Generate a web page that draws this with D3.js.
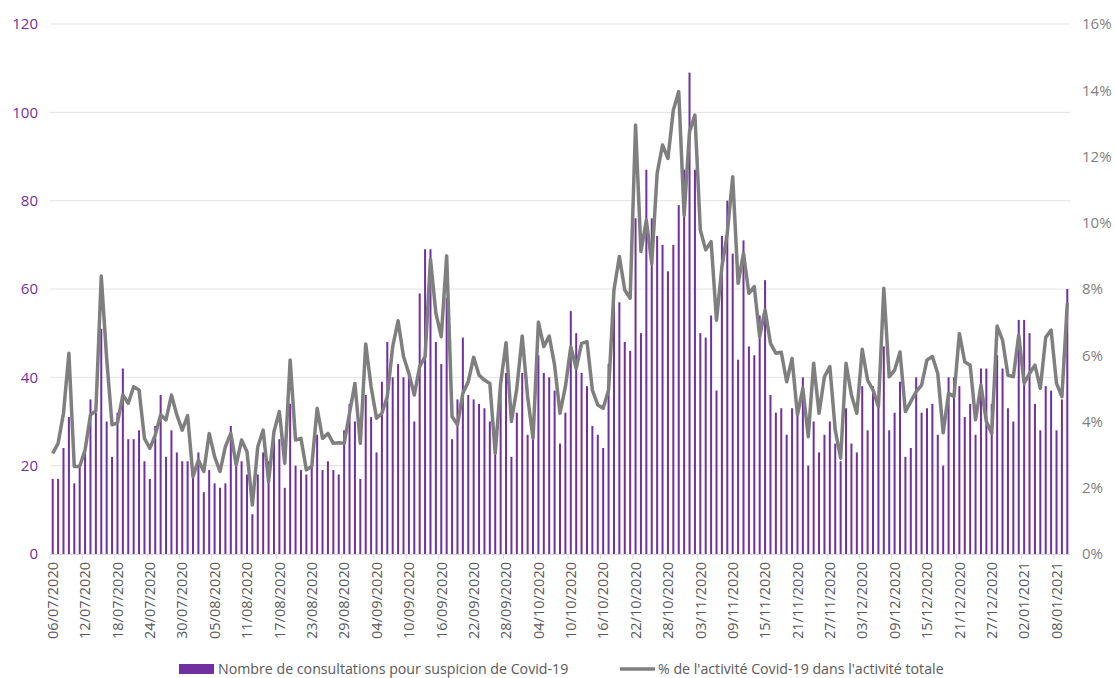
<!DOCTYPE html>
<html>
<head>
<meta charset="utf-8">
<script src="https://cdn.jsdelivr.net/npm/d3@7"></script>
<style>
  body { margin: 0; background: #fff; }
  text { font-family: "Open Sans", sans-serif; }
</style>
</head>
<body>
<svg id="chart" width="1115" height="678"></svg>
<script>
// First day shown (Monday 06/07/2020), one bar per day after it.
var startDate = new Date(2020, 6, 6);

// Daily number of consultations for suspected Covid-19
var consultations = [
  17, 17, 24, 31, 16, 20, 23, 35, 32, 51,
  30, 22, 32, 42, 26, 26, 28, 21, 17, 29,
  36, 22, 28, 23, 21, 21, 18, 23, 14, 19,
  16, 15, 16, 29, 20, 21, 18, 9, 18, 23,
  21, 28, 26, 15, 34, 20, 19, 18, 20, 27,
  19, 21, 19, 18, 28, 34, 30, 17, 36, 31,
  23, 39, 48, 40, 43, 40, 40, 30, 59, 69,
  69, 48, 43, 58, 26, 35, 49, 36, 35, 34,
  33, 30, 23, 39, 41, 22, 32, 41, 27, 28,
  45, 41, 40, 37, 25, 32, 55, 50, 41, 38,
  29, 27, 24, 43, 60, 57, 48, 46, 76, 50,
  87, 76, 72, 70, 64, 70, 79, 87, 109, 87,
  50, 49, 54, 37, 72, 80, 68, 44, 71, 47,
  45, 54, 62, 36, 32, 33, 27, 33, 33, 40,
  20, 30, 23, 27, 30, 25, 21, 33, 25, 23,
  38, 28, 38, 34, 47, 28, 32, 39, 22, 24,
  40, 32, 33, 34, 27, 20, 40, 40, 38, 31,
  34, 27, 42, 42, 34, 45, 42, 33, 30, 53,
  53, 50, 34, 28, 38, 37, 28, 35, 60
];

// Share of Covid-19 activity in total activity (%)
var pctActivity = [
  3.04, 3.34, 4.25, 6.06, 2.64, 2.64, 3.14, 4.2, 4.32, 8.39,
  5.9, 3.9, 3.96, 4.8, 4.55, 5.05, 4.95, 3.49, 3.19, 3.59,
  4.2, 4.05, 4.8, 4.2, 3.74, 4.18, 2.33, 2.84, 2.49, 3.64,
  2.94, 2.49, 3.24, 3.64, 2.69, 3.44, 3.09, 1.48, 3.24, 3.74,
  2.18, 3.69, 4.3, 2.74, 5.86, 3.44, 3.49, 2.54, 2.64, 4.4,
  3.49, 3.64, 3.34, 3.36, 3.34, 4.25, 5.15, 3.34, 6.34, 5.05,
  4.1, 4.25, 4.75, 6.26, 7.04, 5.96, 5.45, 4.8, 5.66, 5.96,
  8.9, 7.27, 6.56, 9.0, 4.15, 3.9, 4.85, 5.2, 5.94, 5.4,
  5.25, 5.15, 3.04, 5.15, 6.38, 4.0, 5.0, 6.58, 4.75, 3.49,
  7.0, 6.26, 6.58, 5.7, 4.25, 5.05, 6.26, 5.6, 6.36, 6.41,
  4.95, 4.5, 4.4, 4.95, 7.97, 8.98, 7.97, 7.72, 12.95, 9.13,
  10.08, 8.77, 11.49, 12.35, 11.94, 13.4, 13.96, 10.23, 12.75, 13.25,
  9.78, 9.18, 9.43, 7.06, 8.67, 9.68, 11.39, 8.17, 9.08, 7.87,
  8.07, 6.56, 7.37, 6.36, 6.06, 6.09, 5.2, 5.9, 4.2, 5.0,
  3.54, 5.76, 4.25, 5.35, 5.66, 3.74, 2.89, 5.76, 4.8, 4.25,
  6.18, 5.25, 4.95, 4.45, 8.02, 5.35, 5.55, 6.1, 4.3, 4.6,
  4.9, 5.1, 5.86, 5.96, 5.45, 3.66, 4.85, 4.75, 6.66, 5.8,
  5.7, 4.05, 5.1, 4.0, 3.64, 6.88, 6.46, 5.4, 5.35, 6.61,
  5.15, 5.45, 5.7, 5.0, 6.54, 6.76, 5.15, 4.75, 7.57
];

var leftTicks = [0, 20, 40, 60, 80, 100, 120];
var rightTicks = [0, 2, 4, 6, 8, 10, 12, 14, 16];

// one label every 6 days
var dateLabels = [
  "06/07/2020", "12/07/2020", "18/07/2020", "24/07/2020", "30/07/2020",
  "05/08/2020", "11/08/2020", "17/08/2020", "23/08/2020", "29/08/2020",
  "04/09/2020", "10/09/2020", "16/09/2020", "22/09/2020", "28/09/2020",
  "04/10/2020", "10/10/2020", "16/10/2020", "22/10/2020", "28/10/2020",
  "03/11/2020", "09/11/2020", "15/11/2020", "21/11/2020", "27/11/2020",
  "03/12/2020", "09/12/2020", "15/12/2020", "21/12/2020", "27/12/2020",
  "02/01/2021", "08/01/2021"
];
var labelStep = 6;

var barLabel = "Nombre de consultations pour suspicion de Covid-19";
var lineLabel = "% de l'activité Covid-19 dans l'activité totale";

var purple = "#7030a0";
var grey = "#7f7f7f";
var textGrey = "#595959";

function drawChart() {
  var left = 50, right = 1070, top = 24, bottom = 554;
  var svg = d3.select("#chart");

  var days = d3.timeDay.range(startDate, d3.timeDay.offset(startDate, consultations.length));

  var x = d3.scaleBand().domain(d3.range(days.length)).range([left, right]).padding(0);
  var bw = x.bandwidth();
  var yLeft = d3.scaleLinear().domain([0, 120]).range([bottom, top]);
  var yRight = d3.scaleLinear().domain([0, 16]).range([bottom, top]);

  // gridlines
  svg.append("g").selectAll("line")
    .data(leftTicks.filter(function(d) { return d > 0; }))
    .enter().append("line")
    .attr("x1", left).attr("x2", right)
    .attr("y1", function(d) { return yLeft(d); })
    .attr("y2", function(d) { return yLeft(d); })
    .attr("stroke", "#e3e3e3").attr("stroke-width", 1);

  // bars
  var barW = 2;
  svg.append("g").selectAll("rect")
    .data(consultations)
    .enter().append("rect")
    .attr("x", function(d, i) { return x(i) + bw / 2 - barW / 2; })
    .attr("y", function(d) { return yLeft(d); })
    .attr("width", barW)
    .attr("height", function(d) { return bottom - yLeft(d); })
    .attr("fill", purple);

  // x axis line + tick marks every 6 days
  svg.append("line")
    .attr("x1", left).attr("x2", right)
    .attr("y1", bottom + 0.5).attr("y2", bottom + 0.5)
    .attr("stroke", "#d9d9d9");

  svg.append("g").selectAll("line")
    .data(dateLabels)
    .enter().append("line")
    .attr("x1", function(d, k) { return x(k * labelStep); })
    .attr("x2", function(d, k) { return x(k * labelStep); })
    .attr("y1", bottom).attr("y2", bottom + 5)
    .attr("stroke", "#d9d9d9");

  svg.append("g").selectAll("text")
    .data(dateLabels)
    .enter().append("text")
    .attr("transform", function(d, k) {
      return "translate(" + (x(k * labelStep) + bw / 2) + "," + (bottom + 8) + ") rotate(-90)";
    })
    .attr("dy", "0.36em")
    .attr("text-anchor", "end")
    .attr("font-size", 14.5)
    .attr("fill", textGrey)
    .text(function(d) { return d; });

  // left axis
  var axL = svg.append("g")
    .attr("transform", "translate(" + left + ",0)")
    .call(d3.axisLeft(yLeft).tickValues(leftTicks).tickSize(0).tickPadding(12));
  axL.select(".domain").remove();
  axL.selectAll("text")
    .attr("font-family", "Open Sans, sans-serif")
    .attr("font-size", 15)
    .attr("fill", purple);

  // right axis
  var axR = svg.append("g")
    .attr("transform", "translate(" + right + ",0)")
    .call(d3.axisRight(yRight).tickValues(rightTicks)
      .tickFormat(function(d) { return d + "%"; })
      .tickSize(0).tickPadding(12));
  axR.select(".domain").remove();
  axR.selectAll("text")
    .attr("font-family", "Open Sans, sans-serif")
    .attr("font-size", 15)
    .attr("fill", grey);

  // line series
  var line = d3.line()
    .x(function(d, i) { return x(i) + bw / 2; })
    .y(function(d) { return yRight(d); });

  svg.append("path")
    .datum(pctActivity)
    .attr("d", line)
    .attr("fill", "none")
    .attr("stroke", grey)
    .attr("stroke-width", 3.5)
    .attr("stroke-linejoin", "round");

  // legend
  var ly = 669;
  svg.append("rect")
    .attr("x", 179).attr("y", ly - 5)
    .attr("width", 35).attr("height", 10)
    .attr("fill", purple);
  svg.append("text")
    .attr("x", 218).attr("y", ly).attr("dy", "0.35em")
    .attr("font-size", 14.2).attr("fill", textGrey)
    .text(barLabel);

  svg.append("line")
    .attr("x1", 620).attr("x2", 655)
    .attr("y1", ly).attr("y2", ly)
    .attr("stroke", grey).attr("stroke-width", 3.5);
  svg.append("text")
    .attr("x", 658).attr("y", ly).attr("dy", "0.35em")
    .attr("font-size", 14.2).attr("fill", textGrey)
    .text(lineLabel);
}

document.addEventListener('DOMContentLoaded', function () {
  drawChart();
});
</script>
</body>
</html>
